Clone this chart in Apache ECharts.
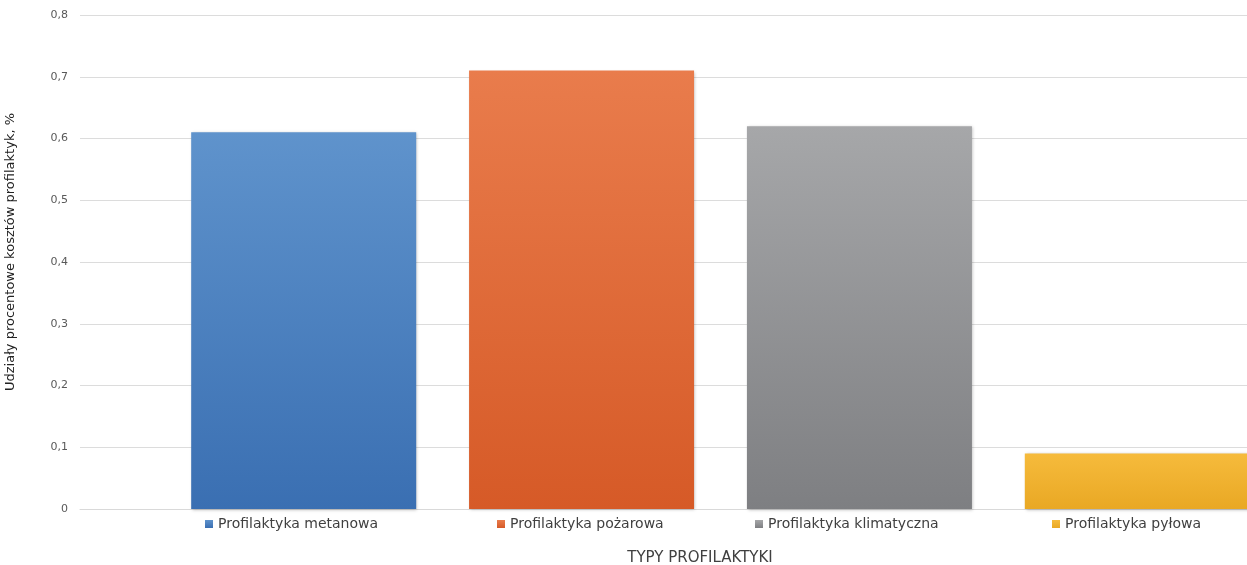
<!DOCTYPE html>
<html>
<head>
<meta charset="utf-8">
<script src="https://cdn.jsdelivr.net/npm/echarts@6/dist/echarts.min.js"></script>
<style>
  html, body { margin: 0; padding: 0; background: #fff; }
  #main { width: 1247px; height: 565px; }
</style>
</head>
<body>
<div id="main"></div>
<script>
// dane z wykresu
var categories = ['Typy'];
var seriesNames = ['Profilaktyka metanowa', 'Profilaktyka pożarowa', 'Profilaktyka klimatyczna', 'Profilaktyka pyłowa'];
var seriesValues = [0.61, 0.71, 0.62, 0.09];
var yTicks = [0, 0.1, 0.2, 0.3, 0.4, 0.5, 0.6, 0.7, 0.8];

var colorsTop = ['#5f93cc', '#e97c4c', '#a6a7a9', '#f6bb3c'];
var colorsBottom = ['#3a6fb2', '#d65a27', '#7e7f82', '#e9a824'];
var legendLeft = [205, 497, 755, 1052];

var myChart = echarts.init(document.getElementById('main'));

var series = [];
for (var i = 0; i < seriesNames.length; i++) {
    series.push({
        name: seriesNames[i],
        type: 'bar',
        data: [seriesValues[i]],
        barWidth: 225,
        barGap: '23.5%',
        itemStyle: {
            color: new echarts.graphic.LinearGradient(0, 0, 0, 1, [
                {offset: 0, color: colorsTop[i]},
                {offset: 1, color: colorsBottom[i]}
            ]),
            shadowColor: 'rgba(0,0,0,0.25)',
            shadowBlur: 3,
            shadowOffsetX: 1,
            shadowOffsetY: 1
        }
    });
}

var legends = [];
for (var j = 0; j < seriesNames.length; j++) {
    legends.push({
        data: [seriesNames[j]],
        left: legendLeft[j],
        top: 517,
        padding: 0,
        icon: 'rect',
        itemWidth: 8,
        itemHeight: 8,
        itemGap: 6,
        selectedMode: false,
        textStyle: {fontFamily: 'DejaVu Sans', fontSize: 14, color: '#404040'}
    });
}

var option = {
    animation: false,
    title: {
        text: 'TYPY PROFILAKTYKI',
        left: 700,
        top: 551,
        padding: 0,
        textAlign: 'center',
        textStyle: {fontFamily: 'DejaVu Sans', fontSize: 15, fontWeight: 'normal', color: '#404040'}
    },
    legend: legends,
    grid: {left: 80, top: 15, width: 1281, height: 494, containLabel: false, outerBoundsMode: 'none'},
    xAxis: {
        type: 'category',
        data: categories,
        axisLine: {show: true, lineStyle: {color: '#d9d9d9'}},
        axisTick: {show: false},
        axisLabel: {show: false}
    },
    yAxis: {
        type: 'value',
        min: 0,
        max: 0.8,
        interval: 0.1,
        name: 'Udziały procentowe kosztów profilaktyk, %',
        nameLocation: 'middle',
        nameGap: 63,
        nameTextStyle: {fontFamily: 'DejaVu Sans', fontSize: 13, color: '#222', padding: [0, 0, 0, 20]},
        axisLine: {show: false},
        axisTick: {show: false},
        axisLabel: {
            margin: 12,
            fontFamily: 'DejaVu Sans',
            fontSize: 11,
            color: '#595959',
            formatter: function (v) {
                var t = yTicks.filter(function (x) { return Math.abs(x - v) < 1e-9; });
                if (!t.length) return '';
                return v === 0 ? '0' : v.toFixed(1).replace('.', ',');
            }
        },
        splitLine: {lineStyle: {color: '#dcdcdc'}}
    },
    series: series
};

myChart.setOption(option);
</script>
</body>
</html>
